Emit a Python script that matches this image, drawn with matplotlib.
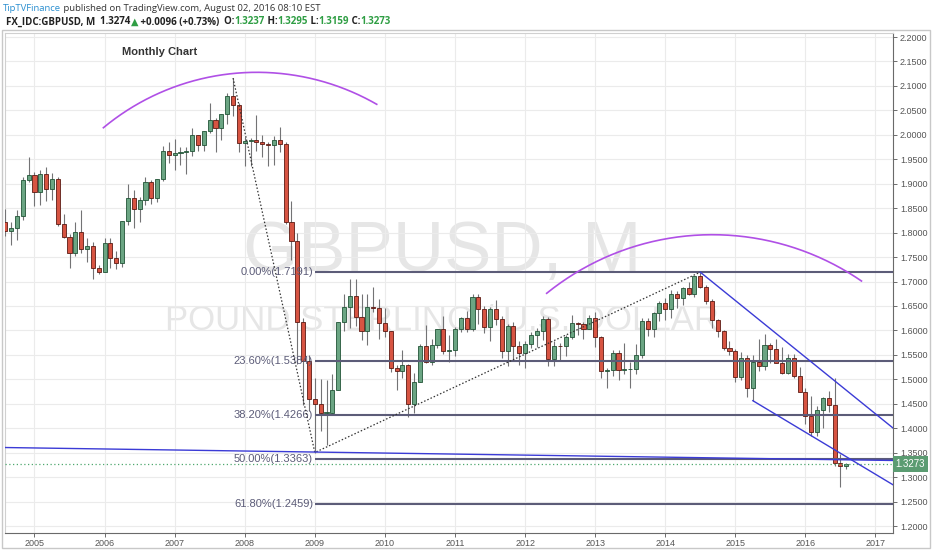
import numpy as np
import matplotlib
matplotlib.use("Agg")
import matplotlib.pyplot as plt
import matplotlib.transforms as mtransforms

# GBPUSD monthly candles, Aug 2004 .. Aug 2016 (month index 0 = Jan 2005)
first_month = -5

opens = [
    1.8208, 1.8035, 1.8085, 1.8346, 1.9083,
    1.9187, 1.8831, 1.9208, 1.8890, 1.9105, 1.8178, 1.7917, 1.7582, 1.8018, 1.7655, 1.7718, 1.7276,
    1.7202, 1.7795, 1.7486, 1.7377, 1.8246, 1.8715, 1.8484, 1.8665, 1.9043, 1.8701, 1.9092, 1.9669,
    1.9586, 1.9618, 1.9642, 1.9673, 1.9998, 1.9790, 2.0069, 2.0305, 2.0144, 2.0423, 2.0790, 2.0604,
    1.9842, 1.9875, 1.9891, 1.9844, 1.9822, 1.9788, 1.9902, 1.9818, 1.8224, 1.7829, 1.6170, 1.5380,
    1.4593, 1.4485, 1.4316, 1.4318, 1.4787, 1.6168, 1.6471, 1.6709, 1.6283, 1.5981, 1.6470, 1.6453,
    1.6150, 1.5983, 1.5233, 1.5178, 1.5285, 1.4500, 1.4952, 1.5683, 1.5348, 1.5700, 1.6025, 1.5575,
    1.5598, 1.6025, 1.6253, 1.6035, 1.6691, 1.6445, 1.6064, 1.6434, 1.6236, 1.5586, 1.6080, 1.5683,
    1.5542, 1.5715, 1.5906, 1.5994, 1.6236, 1.5420, 1.5687, 1.5683, 1.5864, 1.6155, 1.6137, 1.6023,
    1.6255, 1.5857, 1.5174, 1.5185, 1.5534, 1.5194, 1.5207, 1.5210, 1.5496, 1.6189, 1.6038, 1.6361,
    1.6563, 1.6438, 1.6749, 1.6672, 1.6867, 1.6748, 1.7109, 1.6880, 1.6596, 1.6216, 1.5996, 1.5644,
    1.5578, 1.5057, 1.5435, 1.4825, 1.5347, 1.5282, 1.5709, 1.5613, 1.5336, 1.5125, 1.5428, 1.5064,
    1.4739, 1.4247, 1.3921, 1.4376, 1.4609, 1.4480, 1.3285, 1.3237,
]
highs = [
    1.8478, 1.8222, 1.8458, 1.9139, 1.9552,
    1.9245, 1.9287, 1.9334, 1.9212, 1.9139, 1.8386, 1.7978, 1.8211, 1.8468, 1.7886, 1.7800, 1.7330,
    1.7897, 1.7880, 1.7628, 1.8247, 1.9002, 1.8880, 1.8732, 1.9133, 1.9081, 1.9096, 1.9767, 1.9847,
    1.9917, 1.9751, 1.9755, 2.0133, 2.0004, 2.0074, 2.0655, 2.0344, 2.0430, 2.0848, 2.1161, 2.0659,
    1.9951, 1.9928, 2.0395, 1.9994, 1.9843, 1.9970, 2.0160, 1.9859, 1.8650, 1.8000, 1.6262, 1.5507,
    1.5028, 1.5003, 1.4985, 1.5112, 1.6177, 1.6744, 1.7043, 1.7042, 1.6736, 1.6741, 1.6880, 1.6648,
    1.6458, 1.5983, 1.5283, 1.5593, 1.5318, 1.5131, 1.5722, 1.6107, 1.5818, 1.6029, 1.6298, 1.5897,
    1.6060, 1.6278, 1.6404, 1.6748, 1.6745, 1.6490, 1.6475, 1.6618, 1.6300, 1.6138, 1.6167, 1.5778,
    1.5778, 1.5974, 1.6058, 1.6302, 1.6280, 1.5778, 1.5751, 1.5912, 1.6309, 1.6179, 1.6173, 1.6308,
    1.6380, 1.5890, 1.5240, 1.5605, 1.5605, 1.5752, 1.5355, 1.5716, 1.6260, 1.6259, 1.6380, 1.6602,
    1.6668, 1.6823, 1.6797, 1.6881, 1.6996, 1.7112, 1.7191, 1.6924, 1.6644, 1.6226, 1.6017, 1.5787,
    1.5630, 1.5551, 1.5498, 1.5498, 1.5815, 1.5930, 1.5735, 1.5819, 1.5659, 1.5508, 1.5508, 1.5242,
    1.4815, 1.4668, 1.4459, 1.4638, 1.4770, 1.5018, 1.3481, 1.3295,
]
lows = [
    1.7936, 1.7747, 1.7856, 1.8258, 1.9031,
    1.8553, 1.8557, 1.8655, 1.8658, 1.8135, 1.7880, 1.7270, 1.7513, 1.7580, 1.7405, 1.7046, 1.7150,
    1.7189, 1.7280, 1.7265, 1.7290, 1.8163, 1.8088, 1.8219, 1.8560, 1.8584, 1.8623, 1.9054, 1.9431,
    1.9286, 1.9390, 1.9190, 1.9563, 1.9660, 1.9674, 2.0041, 1.9655, 1.9894, 2.0218, 2.0380, 1.9641,
    1.9365, 1.9360, 1.9676, 1.9549, 1.9362, 1.9388, 1.9656, 1.8183, 1.7445, 1.5311, 1.4474, 1.4349,
    1.3503, 1.3937, 1.3658, 1.4288, 1.4784, 1.5998, 1.6052, 1.6096, 1.5804, 1.5706, 1.6368, 1.5833,
    1.5856, 1.5151, 1.4783, 1.5021, 1.4229, 1.4315, 1.4944, 1.5342, 1.5294, 1.5650, 1.5519, 1.5344,
    1.5474, 1.5961, 1.5974, 1.5989, 1.6123, 1.5954, 1.5779, 1.6104, 1.5442, 1.5271, 1.5419, 1.5300,
    1.5233, 1.5635, 1.5657, 1.5802, 1.5269, 1.5270, 1.5393, 1.5478, 1.5829, 1.5913, 1.5827, 1.6020,
    1.5655, 1.5017, 1.4831, 1.5075, 1.4995, 1.5106, 1.4813, 1.5100, 1.5428, 1.5893, 1.5855, 1.6200,
    1.6220, 1.6252, 1.6461, 1.6517, 1.6733, 1.6693, 1.6860, 1.6535, 1.6051, 1.5874, 1.5591, 1.5487,
    1.4951, 1.4988, 1.4633, 1.4563, 1.5170, 1.5190, 1.5330, 1.5330, 1.5107, 1.5107, 1.5026, 1.4734,
    1.4080, 1.3835, 1.3835, 1.4005, 1.4330, 1.3229, 1.2798, 1.3159,
]
closes = [
    1.8037, 1.8085, 1.8346, 1.9083, 1.9187,
    1.8831, 1.9208, 1.8890, 1.9105, 1.8178, 1.7917, 1.7582, 1.8018, 1.7655, 1.7718, 1.7276, 1.7202,
    1.7795, 1.7486, 1.7377, 1.8246, 1.8715, 1.8484, 1.8665, 1.9043, 1.8701, 1.9092, 1.9669, 1.9586,
    1.9618, 1.9642, 1.9673, 1.9998, 1.9790, 2.0069, 2.0305, 2.0144, 2.0423, 2.0790, 2.0604, 1.9842,
    1.9875, 1.9891, 1.9844, 1.9822, 1.9788, 1.9902, 1.9818, 1.8224, 1.7829, 1.6170, 1.5380, 1.4593,
    1.4485, 1.4316, 1.4318, 1.4787, 1.6168, 1.6471, 1.6709, 1.6283, 1.5981, 1.6470, 1.6453, 1.6150,
    1.5983, 1.5233, 1.5178, 1.5285, 1.4500, 1.4952, 1.5683, 1.5348, 1.5700, 1.6025, 1.5575, 1.5598,
    1.6025, 1.6253, 1.6035, 1.6691, 1.6445, 1.6064, 1.6434, 1.6236, 1.5586, 1.6080, 1.5683, 1.5542,
    1.5715, 1.5906, 1.5994, 1.6236, 1.5420, 1.5687, 1.5683, 1.5864, 1.6155, 1.6137, 1.6023, 1.6255,
    1.5857, 1.5174, 1.5185, 1.5534, 1.5194, 1.5207, 1.5210, 1.5496, 1.6189, 1.6038, 1.6361, 1.6563,
    1.6438, 1.6749, 1.6672, 1.6867, 1.6748, 1.7109, 1.6880, 1.6596, 1.6216, 1.5996, 1.5644, 1.5578,
    1.5057, 1.5435, 1.4825, 1.5347, 1.5282, 1.5709, 1.5613, 1.5336, 1.5125, 1.5428, 1.5064, 1.4739,
    1.4247, 1.3921, 1.4376, 1.4609, 1.4480, 1.3285, 1.3237, 1.3273,
]

year_labels = [str(y) for y in range(2005, 2018)]
price_ticks = [round(1.20 + 0.05 * i, 2) for i in range(21)]
last_price = 1.3273

# drawings on the chart, anchored as (month index, price)
fib_start = 48
fib_levels = [0.0, 23.6, 38.2, 50.0, 61.8]
fib_prices = [1.7191, 1.5384, 1.4266, 1.3363, 1.2459]
dotted_path = [(34, 2.1161), (48, 1.3503), (114, 1.7191)]
blue_lines = [
    [(-5.05, 1.3605), (147.0, 1.3340)],
    [(114, 1.7191), (147.0, 1.4004)],
    [(123, 1.4563), (147.0, 1.2843)],
]
arcs = [
    [(11.8, 2.0145), (38.1, 2.1278), (58.6, 2.0624)],
    [(87.7, 1.6759), (116.1, 1.7957), (141.6, 1.7010)],
]

UP, UP_EDGE = "#6ba583", "#225437"
DOWN, DOWN_EDGE = "#d75442", "#5b1a13"
WICK = "#737375"
GREEN_TXT = "#2f9e44"

W, H = 932, 550


def draw_candles(ax):
    t = np.arange(len(closes)) + first_month
    o, h, l, c = map(np.array, (opens, highs, lows, closes))
    up = c >= o
    ax.vlines(t, l, h, color=WICK, lw=0.8, zorder=3)
    body = np.maximum(np.abs(c - o), 0.0008)
    bottom = np.minimum(o, c)
    ax.bar(t[up], body[up], bottom=bottom[up], width=0.7, color=UP,
           edgecolor=UP_EDGE, linewidth=0.6, zorder=4)
    ax.bar(t[~up], body[~up], bottom=bottom[~up], width=0.7, color=DOWN,
           edgecolor=DOWN_EDGE, linewidth=0.6, zorder=4)


def draw_arc(ax, pts, color):
    # circle through three anchors, computed in screen space
    (x1, y1), (x2, y2), (x3, y3) = ax.transData.transform(pts)
    d = 2 * (x1 * (y2 - y3) + x2 * (y3 - y1) + x3 * (y1 - y2))
    ux = ((x1**2 + y1**2) * (y2 - y3) + (x2**2 + y2**2) * (y3 - y1) + (x3**2 + y3**2) * (y1 - y2)) / d
    uy = ((x1**2 + y1**2) * (x3 - x2) + (x2**2 + y2**2) * (x1 - x3) + (x3**2 + y3**2) * (x2 - x1)) / d
    r = np.hypot(x1 - ux, y1 - uy)
    a = np.linspace(np.arctan2(y1 - uy, x1 - ux), np.arctan2(y3 - uy, x3 - ux), 200)
    xy = np.column_stack([ux + r * np.cos(a), uy + r * np.sin(a)])
    data = ax.transData.inverted().transform(xy)
    ax.plot(data[:, 0], data[:, 1], color=color, lw=1.2, zorder=6)


def draw_segments(fig, x, y, parts, size):
    renderer = fig.canvas.get_renderer()
    for text, color, weight in parts:
        t = fig.text(x / W, 1 - y / H, text, color=color, fontweight=weight,
                     fontsize=size, family=["Open Sans", "DejaVu Sans"], va="baseline")
        x += t.get_window_extent(renderer).width


def main():
    fig = plt.figure(figsize=(W / 100, H / 100), dpi=100)
    ax = fig.add_axes([5 / W, 17 / H, 888 / W, 500 / H])
    ax.set_xlim(-5.05, 147.0)
    ax.set_ylim(1.1857, 2.2082)

    # grid + axes styling
    ax.set_xticks(np.arange(len(year_labels)) * 12)
    ax.set_xticklabels(year_labels)
    ax.set_yticks(price_ticks)
    ax.set_yticklabels([f"{p:.4f}" for p in price_ticks])
    ax.yaxis.tick_right()
    ax.grid(True, color="#ebebeb", lw=0.8, zorder=0)
    ax.tick_params(axis="both", labelsize=6.5, colors="#555555", length=3, width=0.6)
    ax.tick_params(axis="y", pad=2)
    ax.tick_params(axis="x", pad=1)
    for lbl in ax.get_xticklabels() + ax.get_yticklabels():
        lbl.set_family("Liberation Sans")
    for side in ("left", "top"):
        ax.spines[side].set_color("#d0d0d0")
    for side in ("right", "bottom"):
        ax.spines[side].set_color("#6a6a6a")

    # watermark
    ax.text(0.492, 0.56, "GBPUSD, M", transform=ax.transAxes, ha="center", va="center",
            fontsize=51, color="#e6e6e6", family="Liberation Sans", zorder=1)
    ax.text(0.492, 0.426, "POUND STERLING / U.S. DOLLAR", transform=ax.transAxes,
            ha="center", va="center", fontsize=25, color="#e6e6e6",
            family="Liberation Sans", zorder=1)

    draw_candles(ax)

    # fibonacci levels
    for lvl, price in zip(fib_levels, fib_prices):
        ax.hlines(price, fib_start, 147.0, color="#5c5c78", lw=1.5, zorder=5)
        ax.text(fib_start - 0.3, price, f"{lvl:.2f}%({price:.4f})", ha="right", va="center",
                fontsize=8, color="#5c5c78", family="Liberation Sans", zorder=5)

    xs, ys = zip(*dotted_path)
    ax.plot(xs, ys, color="#333333", ls=(0, (1.2, 1.6)), lw=0.9, zorder=6)
    for seg in blue_lines:
        xs, ys = zip(*seg)
        ax.plot(xs, ys, color="#3b3bd6", lw=1.0, zorder=6)
    ax.axhline(last_price, color="#4fa86f", ls=(0, (1, 2)), lw=0.9, zorder=5)

    for pts in arcs:
        draw_arc(ax, pts, "#b050e6")

    ax.text(0.132, 0.962, "Monthly Chart", transform=ax.transAxes, ha="left", va="center",
            fontsize=8, fontweight="bold", color="#333333", family="Liberation Sans")

    # last price tag on the price scale
    trans = mtransforms.blended_transform_factory(ax.transAxes, ax.transData)
    ax.text(1.003, last_price, f"{last_price:.4f}", transform=trans, ha="left", va="center",
            fontsize=7, color="white", family="Liberation Sans", clip_on=False, zorder=8,
            bbox=dict(boxstyle="square,pad=0.3", fc="#5b9c72", ec="none"))

    # outer frame
    fig.patches.append(plt.Rectangle((2 / W, 2 / H), 928 / W, 518 / H, transform=fig.transFigure,
                                     fill=False, ec="#c8c8c8", lw=1))

    draw_segments(fig, 3, 11, [
        ("TipTVFinance", "#2a8fd0", "normal"),
        (" published on TradingView.com, August 02, 2016 08:10 EST", "#333333", "normal"),
    ], 6.8)
    draw_segments(fig, 6, 24.5, [
        ("FX_IDC:GBPUSD, M", "#222222", "bold"),
        ("  1.3274", "#222222", "bold"),
        ("\u25b2", GREEN_TXT, "bold"),
        (" +0.0096 (+0.73%)", "#222222", "bold"),
        ("  O:", "#222222", "bold"),
        ("1.3237", GREEN_TXT, "bold"),
        (" H:", "#222222", "bold"),
        ("1.3295", GREEN_TXT, "bold"),
        (" L:", "#222222", "bold"),
        ("1.3159", GREEN_TXT, "bold"),
        (" C:", "#222222", "bold"),
        ("1.3273", GREEN_TXT, "bold"),
    ], 7)

    fig.savefig("out.png", dpi=100)


if __name__ == "__main__":
    main()
